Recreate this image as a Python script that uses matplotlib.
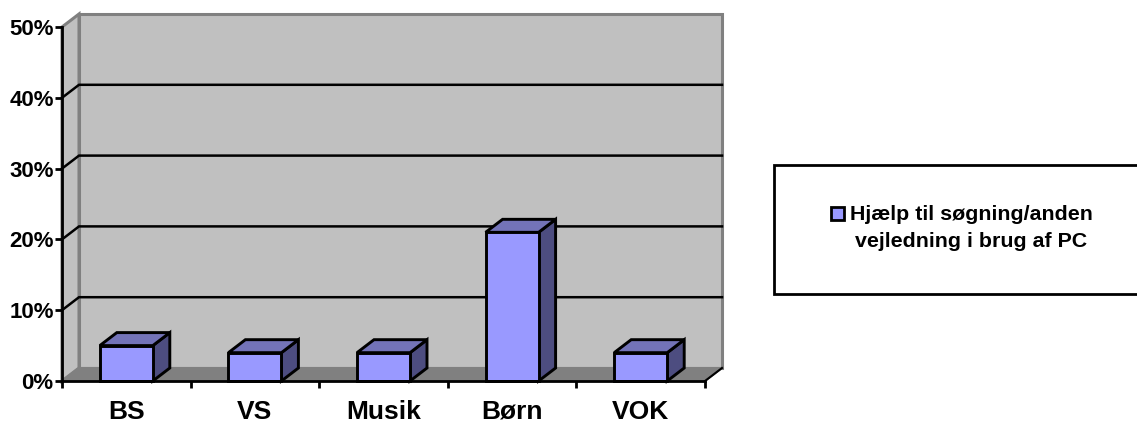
import numpy as np
import matplotlib
matplotlib.use('Agg')
import matplotlib.pyplot as plt
from matplotlib.patches import Polygon, Rectangle

plt.rcParams['font.family'] = ['Liberation Sans', 'DejaVu Sans']

categories = ['BS', 'VS', 'Musik', 'Børn', 'VOK']
values = [5, 4, 4, 21, 4]
yticks = [0, 10, 20, 30, 40, 50]
ytick_labels = ['0%', '10%', '20%', '30%', '40%', '50%']
legend_label = 'Hjælp til søgning/anden\nvejledning i brug af PC'

W, H = 1137, 423
fig = plt.figure(figsize=(W / 100, H / 100), dpi=100)

# front plane of the fake 3d box, in pixels
left, right, top, bottom = 62, 705, 27, 381
ax = fig.add_axes([left / W, 1 - bottom / H, (right - left) / W, (bottom - top) / H])
ax.set_xlim(0, len(categories))
ax.set_ylim(0, 50)
ax.patch.set_visible(False)

# depth of the box in data units
dx = 17 / ((right - left) / len(categories))
dy = 13 / ((bottom - top) / 50)
n = len(categories)

def poly(pts, fc, ec, lw=2, z=1):
    ax.add_patch(Polygon(pts, closed=True, fc=fc, ec=ec, lw=lw, zorder=z,
                         clip_on=False, joinstyle='miter'))

# walls and floor
poly([(dx, dy), (n + dx, dy), (n + dx, 50 + dy), (dx, 50 + dy)], '#C0C0C0', '#808080', 2.2, 1)
poly([(0, 0), (dx, dy), (dx, 50 + dy), (0, 50)], '#C0C0C0', '#808080', 2.2, 1)
poly([(0, 0), (n, 0), (n + dx, dy), (dx, dy)], '#808080', '#808080', 1.5, 1)

# gridlines on the walls
for t in yticks[1:-1]:
    ax.plot([0, dx, n + dx], [t, t + dy, t + dy], color='black', lw=1.8, zorder=2,
            clip_on=False, solid_joinstyle='miter')
ax.plot([n, n + dx], [0, dy], color='black', lw=1.5, zorder=2, clip_on=False)

# bars
bar_w = 53 / ((right - left) / n)
edge = 'black'
for i, v in enumerate(values):
    x0 = i + (1 - bar_w) / 2
    x1 = x0 + bar_w
    poly([(x1, 0), (x1 + dx, dy), (x1 + dx, v + dy), (x1, v)], '#4D4D80', edge, 2.1, 3)
    poly([(x0, v), (x1, v), (x1 + dx, v + dy), (x0 + dx, v + dy)], '#7373B8', edge, 2.1, 3)
    ax.add_patch(Rectangle((x0, 0), bar_w, v, fc='#9999FF', ec=edge, lw=2.1, zorder=4,
                           clip_on=False, joinstyle='miter'))

# axes
for s in ['top', 'right']:
    ax.spines[s].set_visible(False)
for s in ['left', 'bottom']:
    ax.spines[s].set_linewidth(2)
    ax.spines[s].set_zorder(5)
ax.set_yticks(yticks)
ax.set_yticklabels(ytick_labels, fontsize=16, fontweight='bold')
ax.tick_params(axis='y', length=5, width=2, pad=1)
ax.set_xticks(np.arange(n + 1))
ax.set_xticklabels([])
ax.tick_params(axis='x', which='major', length=5, width=2)
# category names sit on minor ticks, between the major ones
ax.set_xticks(np.arange(n) + 0.5, minor=True)
ax.set_xticklabels(categories, minor=True, fontsize=19, fontweight='bold', va='baseline')
ax.tick_params(axis='x', which='minor', length=0, pad=27)

# legend box, runs off the right edge
fig.add_artist(Rectangle((773.5 / W, 1 - 294 / H), (W + 10 - 773.5) / W, 129 / H,
                         transform=fig.transFigure, fc='white', ec='black', lw=2))
fig.add_artist(Rectangle((831 / W, 1 - 220.5 / H), 13 / W, 13 / H, transform=fig.transFigure,
                         fc='#9999FF', ec='black', lw=2))
fig.text(971 / W, 1 - 228 / H, legend_label, ha='center', va='center', fontsize=15.4,
         fontweight='bold', linespacing=1.47)

fig.savefig('out.png', dpi=100)
